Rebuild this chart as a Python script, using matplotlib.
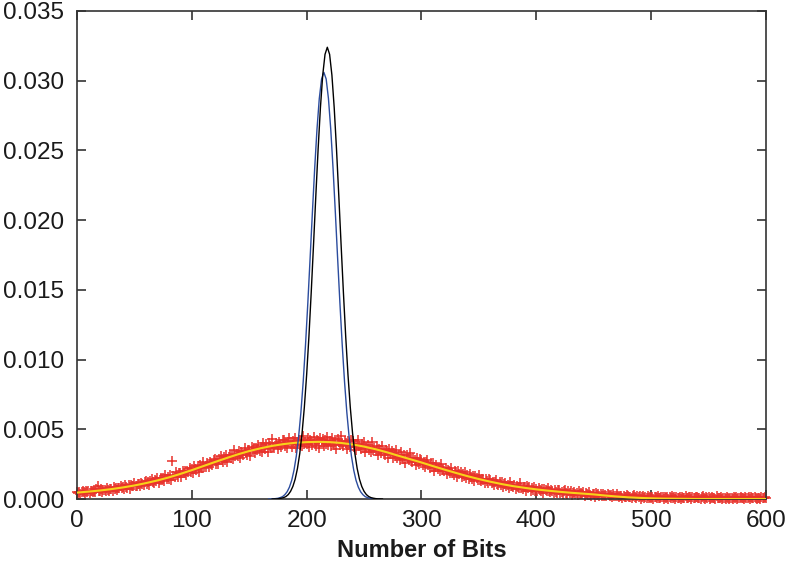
import numpy as np
import matplotlib
matplotlib.use('Agg')
import matplotlib.pyplot as plt
from matplotlib.ticker import FormatStrFormatter

plt.rcParams['font.family'] = ['Liberation Sans', 'DejaVu Sans']

# measured histogram (red crosses), one point per bit, values in units of 1e-5
hist_x = np.arange(0, 601)
hist_y = [
    53, 42, 49, 39, 52, 61, 49, 44, 56, 49, 61, 43, 55, 61, 52, 59, 50, 71, 95, 61,
    57, 70, 52, 68, 66, 60, 79, 66, 61, 75, 73, 58, 83, 74, 82, 67, 82, 76, 92, 76,
    87, 73, 99, 85, 82, 98, 74, 104, 95, 90, 117, 95, 91, 108, 107, 92, 116, 106, 103, 124,
    127, 107, 121, 103, 128, 144, 123, 115, 138, 126, 148, 115, 139, 150, 134, 148, 132, 172, 146, 155,
    147, 172, 139, 275, 168, 156, 192, 169, 159, 187, 184, 157, 202, 187, 203, 175, 204, 192, 222, 194,
    213, 190, 235, 213, 208, 235, 196, 245, 232, 224, 269, 233, 227, 255, 252, 228, 268, 252, 247, 282,
    285, 254, 276, 248, 286, 311, 278, 266, 301, 282, 317, 265, 300, 316, 292, 313, 287, 348, 308, 321,
    309, 343, 294, 337, 333, 315, 367, 331, 316, 355, 350, 308, 373, 348, 369, 327, 367, 349, 390, 347,
    372, 338, 399, 365, 356, 391, 334, 401, 380, 367, 427, 374, 363, 400, 392, 356, 410, 384, 375, 420,
    420, 377, 402, 364, 411, 440, 395, 376, 419, 391, 434, 364, 406, 424, 390, 414, 377, 453, 398, 412,
    394, 434, 372, 420, 413, 388, 448, 403, 382, 426, 417, 364, 440, 407, 430, 377, 423, 397, 445, 390,
    417, 378, 441, 402, 390, 426, 361, 431, 406, 389, 453, 392, 377, 415, 405, 362, 418, 387, 375, 422,
    417, 372, 395, 354, 398, 425, 378, 356, 397, 367, 407, 335, 374, 390, 353, 375, 336, 409, 352, 363,
    344, 378, 319, 361, 352, 327, 380, 335, 314, 352, 341, 291, 357, 325, 344, 293, 333, 307, 349, 296,
    318, 283, 334, 299, 287, 315, 260, 316, 293, 277, 328, 276, 262, 292, 282, 246, 291, 264, 252, 289,
    282, 246, 262, 229, 262, 281, 243, 225, 255, 230, 260, 203, 233, 244, 214, 230, 199, 254, 209, 217,
    202, 225, 182, 211, 204, 186, 222, 190, 174, 200, 192, 155, 202, 179, 191, 155, 182, 163, 193, 154,
    169, 145, 179, 155, 147, 165, 127, 165, 149, 137, 172, 136, 126, 146, 139, 114, 145, 126, 117, 143,
    138, 113, 124, 101, 124, 138, 111, 99, 120, 103, 124, 84, 105, 113, 93, 104, 82, 122, 90, 96,
    85, 103, 72, 94, 89, 76, 115, 80, 69, 89, 83, 57, 92, 76, 86, 59, 80, 67, 89, 61,
    73, 55, 82, 64, 58, 74, 45, 75, 63, 55, 82, 55, 48, 65, 60, 41, 65, 51, 46, 66,
    63, 44, 53, 36, 55, 66, 46, 37, 54, 41, 58, 28, 45, 51, 36, 46, 30, 60, 37, 41,
    34, 47, 25, 41, 38, 29, 49, 32, 25, 39, 35, 16, 42, 30, 37, 18, 33, 23, 39, 19,
    32, 19, 38, 26, 21, 32, 12, 33, 24, 19, 37, 19, 14, 25, 22, 9, 25, 16, 12, 26,
    23, 11, 17, 6, 19, 26, 14, 8, 19, 11, 22, 3, 14, 19, 9, 15, 4, 25, 9, 13,
    7, 16, 2, 13, 11, 6, 19, 9, 4, 14, 12, 0, 17, 10, 15, 3, 13, 8, 18, 6,
    11, 3, 17, 8, 5, 14, 0, 15, 10, 6, 20, 7, 4, 13, 11, 2, 14, 8, 5, 16,
    14, 4, 10, 1, 11, 18, 7, 3, 12, 6, 15, 0, 9, 13, 5, 10, 2, 19, 6, 9,
    5, 11, 1, 9, 8, 3, 14, 6, 2, 10, 8, 0, 12, 7, 11, 1, 9, 5, 13, 4,
    9, 2, 13, 6, 4, 11, 0, 12, 7, 5, 16, 5, 3, 10, 8, 1, 11, 6, 4, 12,
    7,
]

# fitted curve (yellow), units of 1e-5
fit_x = np.arange(0, 601, 10)
fit_y = [
    46, 53, 61, 71, 83, 97, 114, 133, 155, 180,
    207, 236, 265, 293, 320, 344, 364, 381, 394, 403,
    408, 410, 408, 402, 391, 376, 357, 335, 310, 286,
    262, 236, 211, 187, 164, 143, 124, 107, 92, 80,
    69, 60, 52, 45, 39, 33, 25, 18, 12, 8,
    5, 3, 2, 1, 0, 0, 0, 0, 0, 0, 0,
]

# narrow peaks
black_x = np.arange(170, 267, 2)
black_y = [
    0.00000, 0.00001, 0.00001, 0.00003, 0.00006, 0.00010, 0.00018, 0.00032,
    0.00055, 0.00090, 0.00142, 0.00219, 0.00326, 0.00471, 0.00658, 0.00891,
    0.01168, 0.01484, 0.01825, 0.02175, 0.02510, 0.02807, 0.03040, 0.03189,
    0.03240,
    0.03189, 0.03040, 0.02807, 0.02510, 0.02175, 0.01825, 0.01484, 0.01168,
    0.00891, 0.00658, 0.00471, 0.00326, 0.00219, 0.00142, 0.00090, 0.00055,
    0.00032, 0.00018, 0.00010, 0.00006, 0.00003, 0.00001, 0.00001, 0.00000,
]
blue_x = np.arange(167, 264, 2)
blue_y = [
    0.00000, 0.00000, 0.00001, 0.00003, 0.00005, 0.00010, 0.00017, 0.00031,
    0.00052, 0.00085, 0.00134, 0.00207, 0.00308, 0.00445, 0.00621, 0.00841,
    0.01103, 0.01401, 0.01724, 0.02054, 0.02371, 0.02651, 0.02871, 0.03012,
    0.03060,
    0.03012, 0.02871, 0.02651, 0.02371, 0.02054, 0.01724, 0.01401, 0.01103,
    0.00841, 0.00621, 0.00445, 0.00308, 0.00207, 0.00134, 0.00085, 0.00052,
    0.00031, 0.00017, 0.00010, 0.00005, 0.00003, 0.00001, 0.00000, 0.00000,
]

scale = 1e-5

fig = plt.figure(figsize=(7.87, 5.61), dpi=100)
ax = fig.add_axes([0.0978, 0.1105, 0.8755, 0.8699])

ax.plot(hist_x, np.array(hist_y) * scale, '+', color='#e8322b',
        markersize=7, markeredgewidth=1.1, clip_on=False, zorder=2)
ax.plot(fit_x, np.array(fit_y) * scale, '-', color='#f7d21a', lw=1.5, zorder=3)
ax.plot(blue_x, blue_y, '-', color='#2b4c9e', lw=1.0, zorder=4)
ax.plot(black_x, black_y, '-', color='black', lw=1.0, zorder=5)

ax.set_xlim(0, 600)
ax.set_ylim(0, 0.035)
ax.set_xticks(np.arange(0, 601, 100))
ax.set_yticks(np.arange(0, 0.0351, 0.005))
ax.yaxis.set_major_formatter(FormatStrFormatter('%.3f'))

for s in ax.spines.values():
    s.set_color('#333333')
    s.set_linewidth(1.2)
ax.tick_params(direction='in', top=True, right=True, length=6.5, width=1.2,
               color='#333333', labelsize=17.5, labelcolor='#1a1a1a')
ax.tick_params(axis='y', pad=9)
ax.tick_params(axis='x', pad=8)

ax.set_xlabel('Number of Bits', fontsize=17, fontweight='bold', color='#1a1a1a',
              labelpad=5)

fig.savefig('out.png', dpi=100)
